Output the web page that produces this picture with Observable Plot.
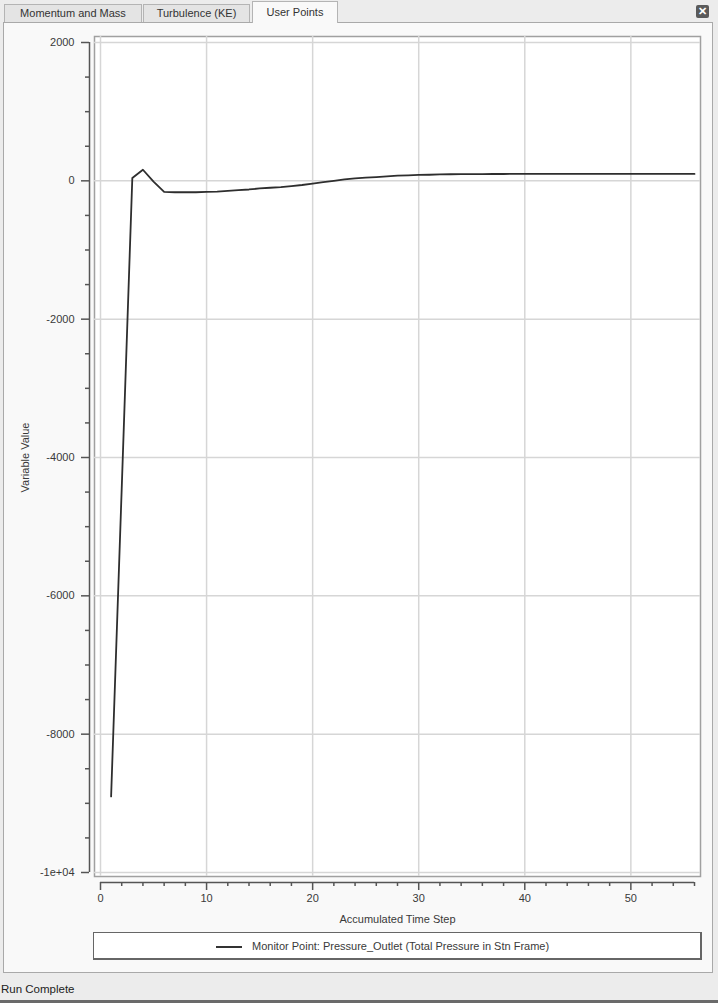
<!DOCTYPE html>
<html>
<head>
<meta charset="utf-8">
<script src="https://cdn.jsdelivr.net/npm/d3@7"></script>
<script src="https://cdn.jsdelivr.net/npm/@observablehq/plot@0.6"></script>
<style>
  html, body { margin: 0; padding: 0; }
  body {
    width: 718px; height: 1003px; position: relative; overflow: hidden;
    background: #ececec;
    font-family: "Liberation Sans", Arial, sans-serif; font-size: 11px; color: #3a3a3a;
  }
  .tab {
    position: absolute; top: 4px; height: 18px; box-sizing: border-box;
    border: 1px solid #b4b4b4; border-bottom: none; background: #e4e4e4;
    text-align: center; line-height: 17px; font-size: 11px; color: #333;
  }
  .tab.active { top: 1px; height: 22px; background: #f9f9f9; z-index: 2; line-height: 21px; }
  #panel {
    position: absolute; left: 3px; top: 22px; width: 710px; height: 951px; box-sizing: border-box;
    border: 1px solid #a9a9a9; background: #f9f9f9;
  }
  #close {
    position: absolute; left: 696px; top: 5px; width: 13px; height: 13px; box-sizing: border-box;
    background: #5a5a5a; border-radius: 2px; color: #fff; font-size: 11px; font-weight: bold;
    line-height: 12px; text-align: center;
  }
  #chart { position: absolute; left: 0; top: 0; }
  #legend {
    position: absolute; left: 93px; top: 932px; width: 609px; height: 28px; box-sizing: border-box;
    border: 1px solid #666; border-right-width: 2px; border-bottom-width: 2px; background: #fff;
  }
  #legend .swatch { position: absolute; left: 122px; top: 13px; width: 26px; height: 2px; background: #333; }
  #legend .name { position: absolute; left: 158px; top: 7px; font-size: 11px; color: #3a3a3a; white-space: nowrap; }
  #status {
    position: absolute; left: 0; top: 983px; width: 718px; height: 17px;
    font-size: 11.5px; color: #222; padding-left: 1px;
  }
  #bottomEdge { position: absolute; left: 0; top: 1000px; width: 718px; height: 3px; background: #6a6a6a; }
</style>
</head>
<body>
<div class="tab" style="left:4px;width:138px;">Momentum and Mass</div>
<div class="tab" style="left:143px;width:107px;">Turbulence (KE)</div>
<div class="tab active" style="left:252px;width:86px;">User Points</div>
<div id="close">✕</div>
<div id="panel"></div>
<div id="chart"></div>
<div id="legend"><div class="swatch"></div><div class="name">Monitor Point: Pressure_Outlet (Total Pressure in Stn Frame)</div></div>
<div id="status">Run Complete</div>
<div id="bottomEdge"></div>
<script>
// Monitor point history: total pressure at the outlet per accumulated time step
const steps = [1, 2, 3, 4, 5, 6, 7, 8, 9, 10,
  11, 12, 13, 14, 15, 16, 17, 18, 19, 20,
  21, 22, 23, 24, 25, 26, 27, 28, 29, 30,
  31, 32, 33, 34, 35, 36, 37, 38, 39, 40,
  41, 42, 43, 44, 45, 46, 47, 48, 49, 50,
  51, 52, 53, 54, 55, 56];
const pressure = [-8900, -4450, 40, 160, -10, -160, -165, -165, -165, -160,
  -155, -145, -135, -125, -110, -100, -90, -75, -60, -40,
  -20, 0, 20, 35, 45, 55, 65, 75, 80, 85,
  88, 92, 95, 96, 97, 98, 99, 99, 100, 100,
  100, 100, 100, 100, 100, 100, 100, 100, 100, 100,
  100, 100, 100, 100, 100, 100];

// Axis ticks and their labels
const yMajor = [-10000, -8000, -6000, -4000, -2000, 0, 2000];
const yLabels = ["-1e+04", "-8000", "-6000", "-4000", "-2000", "0", "2000"];
const yMinor = d3.range(-10000, 2001, 500).filter(v => v % 2000 !== 0);
const xMajor = [0, 10, 20, 30, 40, 50];
const xMinor = d3.range(0, 57, 2).filter(v => v % 10 !== 0);

const data = steps.map((s, i) => ({step: s, value: pressure[i]}));

const axisColor = "#555";
const gridColor = "#d6d6d6";

const chart = Plot.plot({
  width: 718,
  height: 930,
  marginLeft: 100,
  marginRight: 24,
  marginTop: 42,
  marginBottom: 58,
  style: {background: "transparent", fontFamily: "'Liberation Sans', Arial, sans-serif", fontSize: "11px", color: "#3a3a3a", overflow: "visible"},
  x: {domain: [0, 56]},
  y: {domain: [-10000, 2000]},
  marks: [
    Plot.frame({fill: "white", stroke: "#a0a0a0", strokeWidth: 1.5, insetLeft: -6, insetRight: -6, insetTop: -6, insetBottom: -4}),
    Plot.gridX(xMajor, {stroke: gridColor, strokeOpacity: 1, strokeWidth: 1.5, insetTop: -6, insetBottom: -4}),
    Plot.gridY(yMajor, {stroke: gridColor, strokeOpacity: 1, strokeWidth: 1.5, insetLeft: -6, insetRight: -6}),
    // axis lines sit just outside the frame
    Plot.ruleX([0], {dx: -11, stroke: axisColor, strokeWidth: 1.5}),
    Plot.ruleY([-10000], {dy: 10, stroke: axisColor, strokeWidth: 1.5}),
    Plot.axisY(yMinor, {tickSize: 4, tickFormat: () => "", dx: -11, label: null, stroke: axisColor, strokeWidth: 1.5}),
    Plot.axisY(yMajor, {tickSize: 8, tickPadding: 7, dx: -11, stroke: axisColor, strokeWidth: 1.5, fill: "#3a3a3a",
      tickFormat: d => yLabels[yMajor.indexOf(d)],
      label: "Variable Value", labelAnchor: "center", labelOffset: 79, labelArrow: "none"}),
    Plot.axisX(xMinor, {tickSize: 4, tickFormat: () => "", dy: 10, label: null, stroke: axisColor, strokeWidth: 1.5}),
    Plot.axisX(xMajor, {tickSize: 8, tickPadding: 4, dy: 10, stroke: axisColor, strokeWidth: 1.5, fill: "#3a3a3a",
      label: "Accumulated Time Step", labelAnchor: "center", labelOffset: 50, labelArrow: "none"}),
    Plot.line(data, {x: "step", y: "value", stroke: "#2e2e2e", strokeWidth: 1.8})
  ]
});
document.getElementById("chart").appendChild(chart);
</script>
</body>
</html>
